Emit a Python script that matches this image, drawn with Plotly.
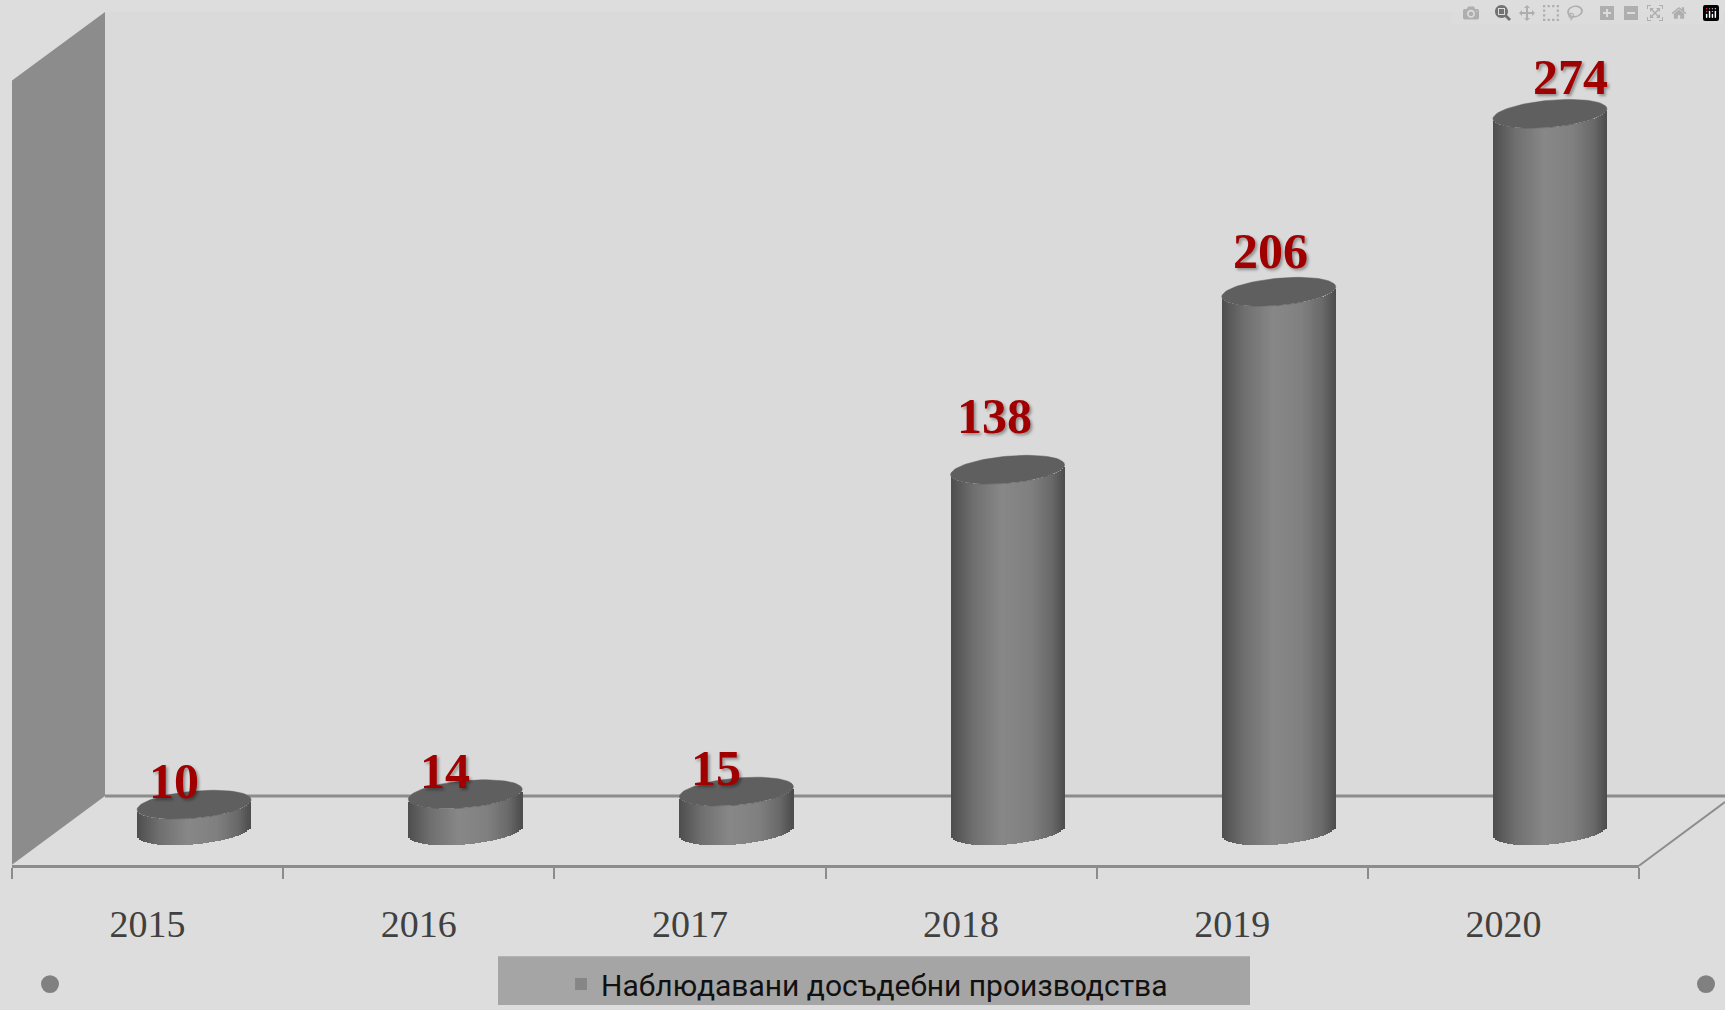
import numpy as np
import plotly.graph_objects as go

years = ['2015', '2016', '2017', '2018', '2019', '2020']
values = [10, 14, 15, 138, 206, 274]
series_name = 'Наблюдавани досъдебни производства'

# hand placed data labels in the original, pixels relative to the top of each cylinder
label_dx = [-20, -20, -20, -13, -8, 21]
label_dy = [24, 23, 24, 54, 41, 37]

W, H = 1725, 1010
AXIS_L, AXIS_R, AXIS_Y = 12, 1639, 870
PX_PER_CAT = (AXIS_R - AXIS_L) / 6
PX_PER_VAL = 2.63
ZERO_Y = 835  # pixel row of value 0, middle of the cylinder foot

# cylinder shape, in pixels
SHIFT = 46.5
A, B, TILT = 57.0, 13.6, 5.0
N_STRIPS = 57

shade_stops = [0, 0.08, 0.2, 0.45, 0.7, 0.88, 1]
shade_grey = [78, 92, 112, 136, 128, 106, 76]

def px(x):
	return x / W

def py(y):
	return 1 - y / H

x_pos = list(range(len(years)))
fig = go.Figure()

# the side of each cylinder: thin bars with a grey ramp, foot follows the lower ellipse
du = 2 / N_STRIPS
for k in range(N_STRIPS):
	u = -1 + (k + 0.5) * du
	grey = int(np.interp((u + 1) / 2, shade_stops, shade_grey))
	foot = (TILT * u - B * np.sqrt(1 - u * u)) / PX_PER_VAL
	fig.add_trace(go.Bar(
		x=x_pos, y=values, base=foot,
		offset=(SHIFT + A * (u - du / 2)) / PX_PER_CAT,
		width=A * du * 1.15 / PX_PER_CAT,
		marker=dict(color=f'rgb({grey},{grey},{grey})', line=dict(width=0)),
		name=series_name,
		legendgroup='s',
		showlegend=k == N_STRIPS // 2,
		hoverinfo='skip'
	))

# the lid of each cylinder
t = np.linspace(0, 2 * np.pi, 80)
lid_x, lid_y = [], []
for i, v in zip(x_pos, values):
	lid_x += list(i + (SHIFT + A * np.cos(t)) / PX_PER_CAT) + [None]
	lid_y += list(v + (TILT * np.cos(t) + B * np.sin(t)) / PX_PER_VAL) + [None]
fig.add_trace(go.Scatter(
	x=lid_x, y=lid_y, mode='lines', fill='toself',
	fillcolor='#5f5f5f', line=dict(width=0.5, color='#5f5f5f'),
	showlegend=False, hoverinfo='skip'
))

annotations = []
for i, v, dx, dy in zip(x_pos, values, label_dx, label_dy):
	annotations.append(dict(
		x=i + SHIFT / PX_PER_CAT, y=v, text=str(v), showarrow=False,
		xshift=dx, yshift=dy,
		font=dict(family='Liberation Sans Narrow', size=50, color='#a00000',
			weight='bold', shadow='2px 2px 3px rgba(0,0,0,0.35)')
	))

GRID = '#8c8c8c'
shapes = [
	# back panel
	dict(type='rect', xref='paper', yref='paper', x0=px(105), x1=1, y0=py(12), y1=py(800),
		fillcolor='#dadada', line_width=0, layer='below'),
	# side wall
	dict(type='path', xref='paper', yref='paper', layer='below', fillcolor=GRID, line_width=0,
		path=f'M {px(12)} {py(81)} L {px(105)} {py(12)} L {px(105)} {py(800)} L {px(12)} {py(869)} Z'),
	# floor edges
	dict(type='line', xref='paper', yref='paper', x0=px(105), x1=1, y0=py(800), y1=py(800),
		line=dict(color=GRID, width=3), layer='below'),
	dict(type='line', xref='paper', yref='paper', x0=px(1639), x1=1, y0=py(870), y1=py(806),
		line=dict(color=GRID, width=2), layer='below'),
	# legend box
	dict(type='rect', xref='paper', yref='paper', x0=px(498), x1=px(1250), y0=0, y1=py(961),
		fillcolor='#a5a5a5', line_width=0, layer='below'),
	# corner dots
	dict(type='circle', xref='paper', yref='paper', x0=px(41), x1=px(59), y0=py(998), y1=py(980),
		fillcolor='#808080', line_width=0, layer='below'),
	dict(type='circle', xref='paper', yref='paper', x0=px(1697), x1=px(1715), y0=py(998), y1=py(980),
		fillcolor='#808080', line_width=0, layer='below'),
]

fig.update_layout(
	width=W, height=H,
	margin=dict(l=0, r=0, t=0, b=0),
	paper_bgcolor='#dddddd', plot_bgcolor='rgba(0,0,0,0)',
	barmode='overlay', bargap=0,
	shapes=shapes, annotations=annotations,
	showlegend=True,
	legend=dict(x=px(561), y=py(989), xanchor='left', yanchor='middle',
		bgcolor='rgba(0,0,0,0)', font=dict(family='Roboto', size=30, color='#111111')),
	xaxis=dict(
		domain=[px(AXIS_L), px(AXIS_R)], range=[-0.5, 5.5],
		anchor='free', position=py(AXIS_Y),
		tickmode='array', tickvals=x_pos, ticktext=years,
		ticks='outside', ticklen=24, tickcolor='rgba(0,0,0,0)',
		showgrid=False, zeroline=False,
		showline=True, linecolor=GRID, linewidth=3,
		tickfont=dict(family='Liberation Sans Narrow', size=38, color='#404040'),
		minor=dict(tickmode='array', tickvals=[i - 0.5 for i in range(7)],
			ticks='outside', ticklen=11, tickcolor=GRID, tickwidth=2, showgrid=False)
	),
	yaxis=dict(
		domain=[0, 1], visible=False,
		range=[(ZERO_Y - H) / PX_PER_VAL, ZERO_Y / PX_PER_VAL]
	)
)

fig.write_html('out.html', post_script="document.body.style.margin='0';document.body.style.overflow='hidden';")
